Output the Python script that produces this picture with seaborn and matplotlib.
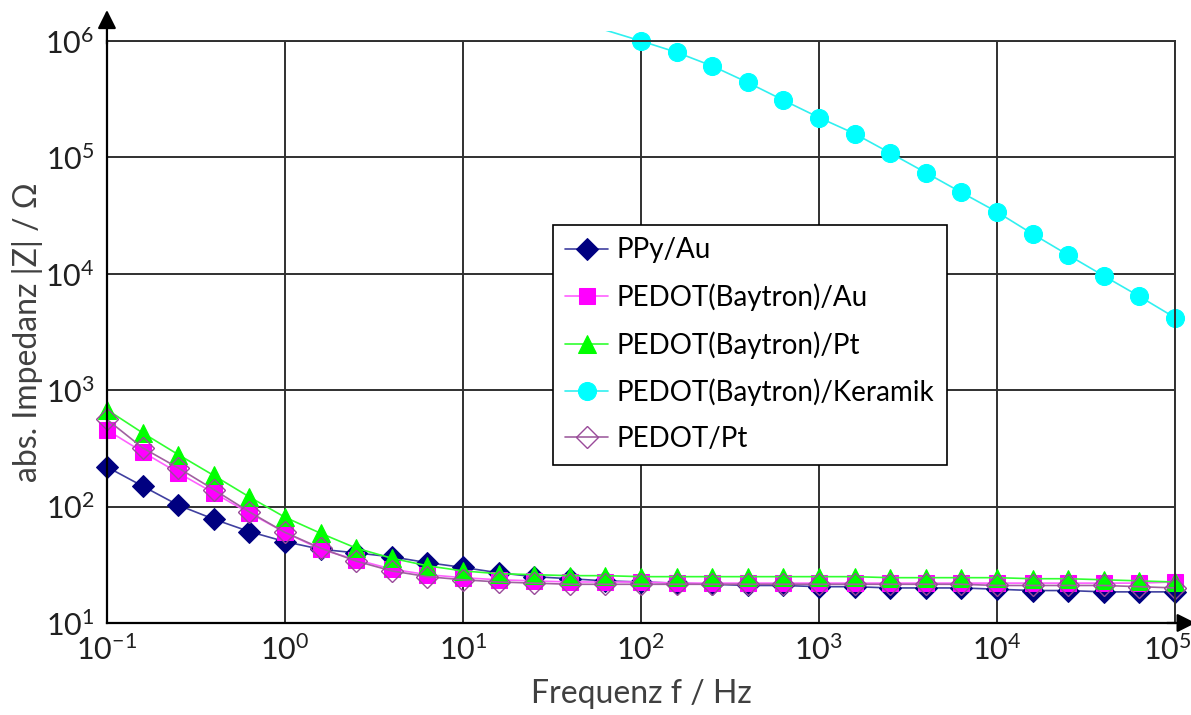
import numpy as np
import pandas as pd
import matplotlib
matplotlib.use("Agg")
import matplotlib.pyplot as plt
import matplotlib.transforms as mtrans
import seaborn as sns
from matplotlib.patches import Rectangle
from matplotlib.ticker import FixedLocator, LogFormatterSciNotation, NullLocator

# ---- data -------------------------------------------------------------
freq_exponents = [-1 + 0.2 * i for i in range(31)]
freq = [10 ** e for e in freq_exponents]

ppy_au = [219, 150, 103, 78, 61, 50, 43, 40, 37, 33, 30, 27, 25, 24, 23,
          22.5, 22, 21.5, 21, 21, 20.5, 20.5, 20, 20, 20, 19.5, 19, 19, 18.5, 18.5, 18.5]
pedot_bay_au = [455, 295, 195, 131, 88, 60, 43, 35, 29, 26, 24.5, 23.5, 23, 22.5, 22.5,
                22.5, 22, 22, 22, 22, 22, 22, 22, 22, 22, 22, 22, 22, 22, 22, 22.5]
pedot_bay_pt = [680, 430, 280, 185, 121, 81, 59, 44, 36, 31, 28, 26.5, 26, 25.5, 25.5,
                25, 25, 25, 25, 25, 25, 25, 24.5, 24.5, 24.5, 24.5, 24, 24, 23.5, 23, 22.5]
pedot_bay_keramik = [np.nan] * 14 + [1.24e6, 1.0e6, 8.0e5, 6.1e5, 4.4e5, 3.1e5, 2.2e5, 1.6e5,
                                     1.09e5, 7.4e4, 5.0e4, 3.4e4, 2.2e4, 1.45e4, 9.6e3, 6.4e3, 4.2e3]
pedot_pt = [560, 320, 215, 140, 90, 60, 44, 34, 28, 25, 23.5, 22.5, 22, 21.5, 21.5,
            21.5, 21.5, 21.5, 21.5, 21.5, 21.5, 21.5, 21.5, 21.5, 21.5, 21, 21, 21, 21, 20.5, 20]

labels = ["PPy/Au", "PEDOT(Baytron)/Au", "PEDOT(Baytron)/Pt",
          "PEDOT(Baytron)/Keramik", "PEDOT/Pt"]
xticks = [1e-1, 1e0, 1e1, 1e2, 1e3, 1e4, 1e5]
yticks = [1e1, 1e2, 1e3, 1e4, 1e5, 1e6]
xlabel = "Frequenz f / Hz"
ylabel = "abs. Impedanz |Z| / Ω"

# ---- styling ------------------------------------------------------------
sns.set_theme(style="white")
FONT = ["Lato", "DejaVu Sans"]
plt.rcParams["font.family"] = FONT
plt.rcParams["mathtext.fontset"] = "custom"
plt.rcParams["mathtext.rm"] = "Lato"
plt.rcParams["mathtext.default"] = "regular"
plt.rcParams["axes.unicode_minus"] = False

styles = [
    dict(color="#4040a0", marker="D", markersize=11, markerfacecolor="#000080",
         markeredgecolor="#000080"),
    dict(color="#ff60ff", marker="s", markersize=12, markerfacecolor="#ff00ff",
         markeredgecolor="#ff00ff"),
    dict(color="#30ff30", marker="^", markersize=13, markerfacecolor="#00ff00",
         markeredgecolor="#00ff00"),
    dict(color="#30f0f0", marker="o", markersize=13, markerfacecolor="#00ffff",
         markeredgecolor="#00ffff"),
    dict(color="#a060a0", marker="D", markersize=11, markerfacecolor="none",
         markeredgecolor="#9a4a9a", markeredgewidth=1.0),
]

fig = plt.figure(figsize=(11.91, 7.15), dpi=100)
ax = fig.add_axes([0.0898, 0.1287, 0.8967, 0.814])

series = [ppy_au, pedot_bay_au, pedot_bay_pt, pedot_bay_keramik, pedot_pt]
line_clip = Rectangle((-0.03, -0.03), 1.06, 1.047, transform=ax.transAxes,
                      facecolor="none", edgecolor="none")
ax.add_patch(line_clip)
for lab, vals, st in zip(labels, series, styles):
    df = pd.DataFrame({"f": freq, "z": vals}).dropna()
    # markers only for points inside the plotted value range
    inside = [i for i, v in enumerate(df["z"]) if v <= 1.05e6]
    n_before = len(ax.lines)
    sns.lineplot(data=df, x="f", y="z", ax=ax, label=lab, linewidth=1.2,
                 estimator=None, sort=False, markevery=inside, **st)
    for ln in ax.lines[n_before:]:
        ln.set_clip_path(line_clip)

ax.set_xscale("log")
ax.set_yscale("log")
ax.set_xlim(0.1, 1e5)
ax.set_ylim(10, 1e6)

ax.xaxis.set_major_locator(FixedLocator(xticks))
ax.yaxis.set_major_locator(FixedLocator(yticks))
ax.xaxis.set_minor_locator(NullLocator())
ax.yaxis.set_minor_locator(NullLocator())
ax.xaxis.set_major_formatter(LogFormatterSciNotation())
ax.yaxis.set_major_formatter(LogFormatterSciNotation())

ax.grid(True, which="major", color="#303030", linewidth=1.4)
ax.tick_params(axis="both", which="both", length=0, labelsize=22, colors="#202020")
ax.tick_params(axis="x", pad=8)
ax.tick_params(axis="y", pad=9)

for side in ["top", "right"]:
    ax.spines[side].set_visible(True)
    ax.spines[side].set_color("#303030")
    ax.spines[side].set_linewidth(1.4)
for side in ["left", "bottom"]:
    ax.spines[side].set_color("black")
    ax.spines[side].set_linewidth(1.6)

# axis arrows
ax.annotate("", xy=(0, 1.058), xytext=(0, 0.99), xycoords="axes fraction",
            arrowprops=dict(arrowstyle="-|>", color="black", lw=1.6, mutation_scale=28))
ax.annotate("", xy=(1.022, 0), xytext=(0.99, 0), xycoords="axes fraction",
            arrowprops=dict(arrowstyle="-|>", color="black", lw=1.6, mutation_scale=28))

ax.set_xlabel(xlabel, fontsize=23, color="#404040", labelpad=10)
ax.set_ylabel(ylabel, fontsize=23, color="#404040")
ax.yaxis.set_label_coords(-0.06, 0.5)

leg = ax.legend(loc="upper left", bbox_to_anchor=(0.4176, 0.684), fontsize=20,
                frameon=True, fancybox=False, edgecolor="black", framealpha=1,
                handlelength=1.55, handletextpad=0.3, labelspacing=0.72,
                borderpad=0.45, borderaxespad=0)
leg.get_frame().set_linewidth(1.2)
for t in leg.get_texts():
    t.set_color("black")

# nudge the last x tick label left so it stays inside the figure
fig.canvas.draw()
last = ax.xaxis.get_major_ticks()[len(xticks) - 1].label1
last.set_transform(last.get_transform() +
                   mtrans.ScaledTranslation(-8 / 100, 0, fig.dpi_scale_trans))

fig.savefig("out.png", dpi=100)
